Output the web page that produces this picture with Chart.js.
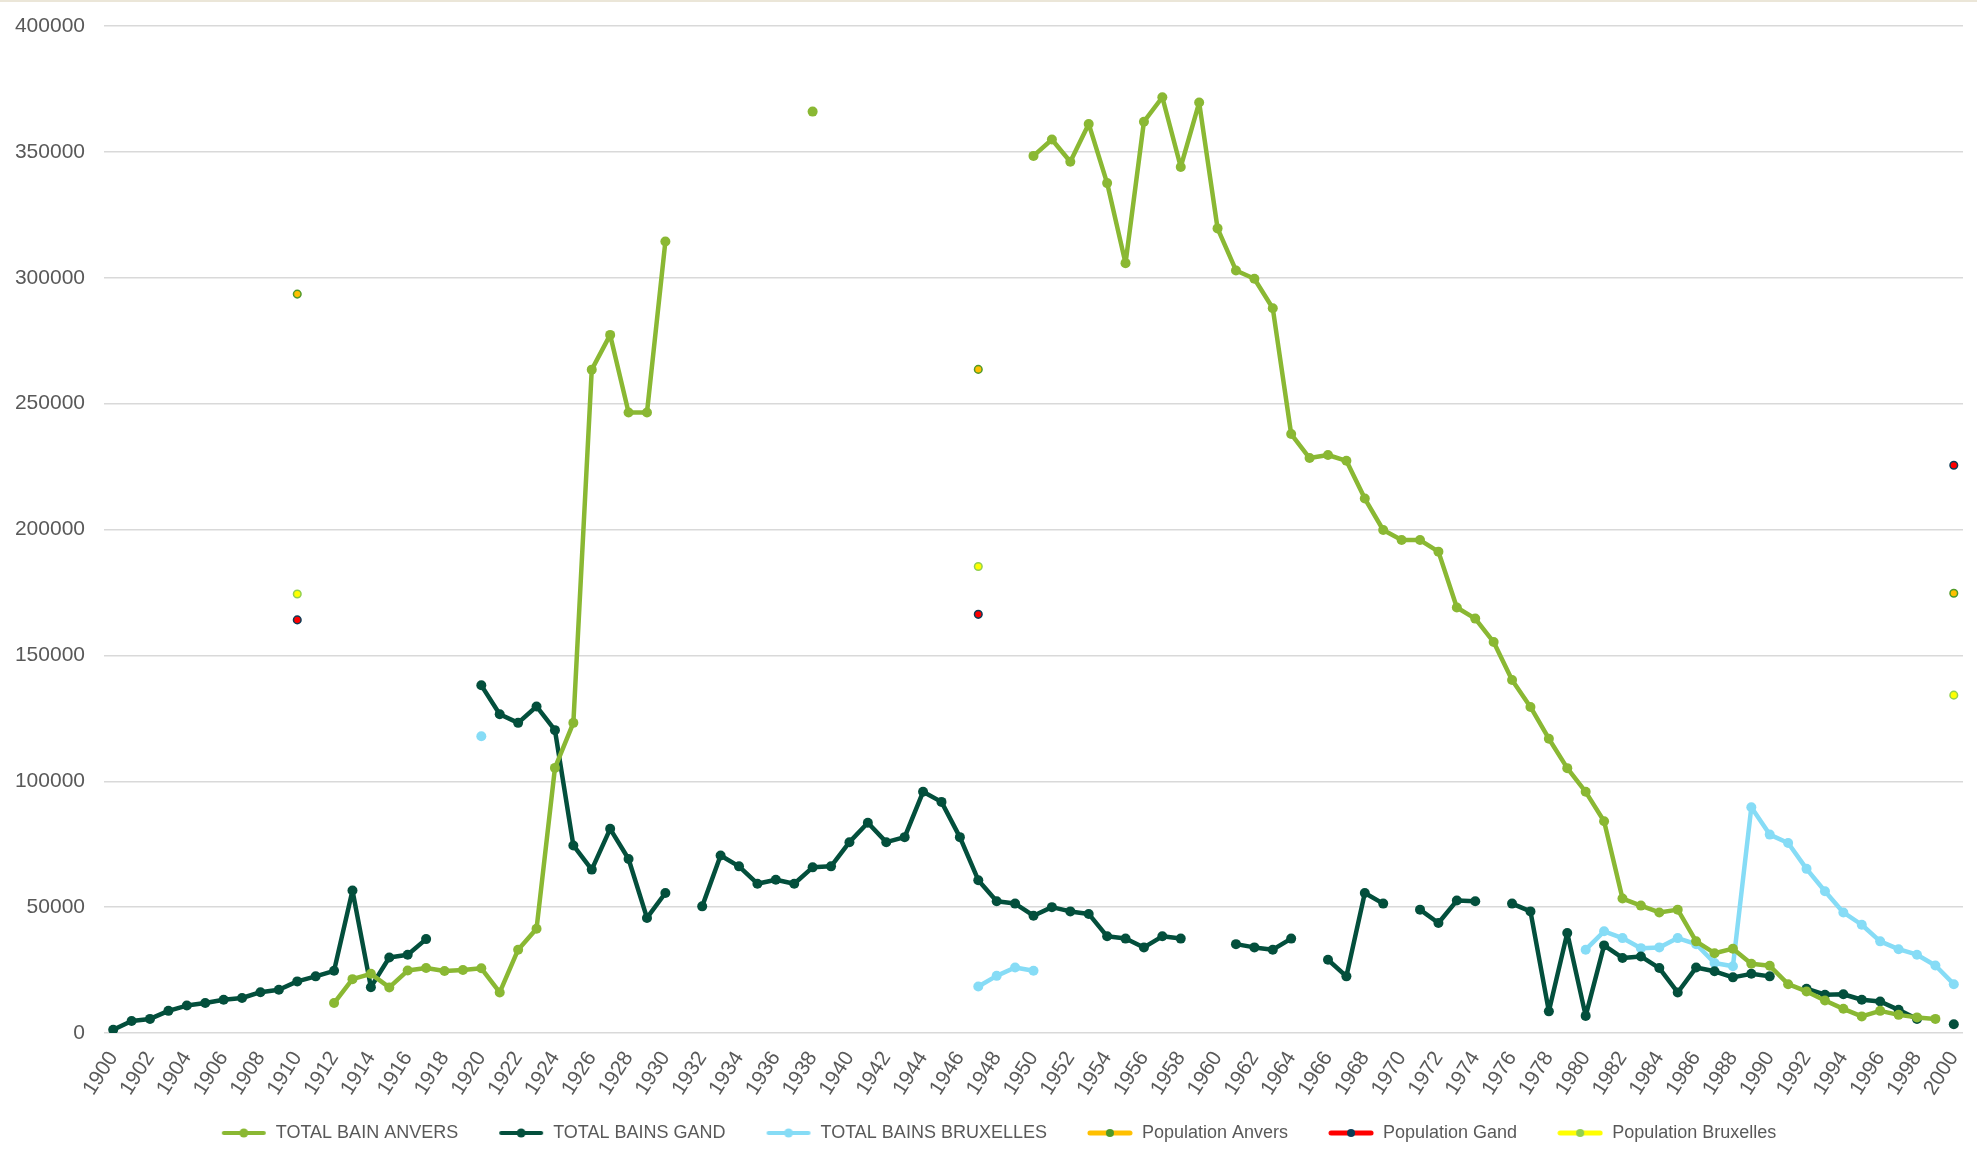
<!DOCTYPE html>
<html>
<head>
<meta charset="utf-8">
<title>Bains</title>
<script src="https://cdn.jsdelivr.net/npm/chart.js@4.4.1/dist/chart.umd.min.js"></script>
<style>
  html, body { margin: 0; padding: 0; background: #ffffff; }
  body { border-top: 2px solid #ebe6d8; box-sizing: border-box; }
  #wrap { width: 1977px; height: 1158px; }
</style>
</head>
<body>
<div id="wrap"><canvas id="bains" width="1977" height="1158"></canvas></div>
<script>
// years on the category axis
var years = [];
for (var y = 1900; y <= 2000; y++) years.push(String(y));

var N = null;

// TOTAL BAIN ANVERS, 1900 -> 2000
var anvers = [
  N, N, N, N, N, N, N, N, N, N, N, N,
  11900, 21400, 23500, 18100, 24800, 25800, 24600, 25000, 25700, 16100,
  33100, 41400, 105300, 123200, 263500, 277300, 246500, 246500, 314400,
  N, N, N, N, N, N, N,
  366000,
  N, N, N, N, N, N, N, N, N, N, N,
  348400, 354900, 346100, 361100, 337600, 305800, 362000, 371700, 344000, 369600,
  319600, 302900, 299600, 287900, 237900, 228400, 229600, 227300, 212300, 199800,
  195800, 195800, 191200, 169000, 164600, 155300, 140200, 129500, 116900, 105200,
  95800, 84100, 53400, 50600, 47900, 49000, 36400, 31700, 33500, 27500,
  26700, 19400, 16500, 12900, 9600, 6600, 8800, 7200, 6200, 5600,
  N
];

// TOTAL BAINS GAND
var gand = [
  1300, 4800, 5600, 8800, 10900, 11900, 13200, 13900, 16200, 17200,
  20500, 22500, 24700, 56600, 18200, 30000, 31100, 37300, N, N,
  138100, 126600, 123200, 129700, 120300, 74500, 64900, 81100, 69100, 45700,
  55600, N, 50300, 70500, 66200, 59300, 60900, 59300, 65800, 66200,
  75800, 83500, 75800, 77800, 95800, 91800, 77800, 60700, 52300, 51400,
  46600, 50000, 48300, 47300, 38400, 37500, 34000, 38400, 37500, N,
  N, 35300, 34000, 33100, 37500, N, 29100, 22500, 55600, 51400,
  N, 49000, 43700, 52600, 52300, N, 51400, 48300, 8600, 39700,
  6800, 34800, 29800, 30400, 25800, 16100, 26000, 24500, 22100, 23500,
  22500, N, 17600, 15200, 15400, 13200, 12500, 9200, 5600, N,
  3500
];

// TOTAL BAINS BRUXELLES
var bruxelles = [];
for (var i = 0; i <= 100; i++) bruxelles.push(N);
var bruxYears = [1920, 1947, 1948, 1949, 1950,
  1980, 1981, 1982, 1983, 1984, 1985, 1986, 1987, 1988, 1989,
  1990, 1991, 1992, 1993, 1994, 1995, 1996, 1997, 1998, 1999, 2000];
var bruxValues = [117900, 18500, 22700, 26000, 24700,
  33100, 40400, 37700, 33700, 34000, 37700, 35300, 27800, 26500, 89700,
  78800, 75500, 65200, 56300, 47900, 43000, 36400, 33300, 31100, 26800, 19400];
for (var i = 0; i < bruxYears.length; i++) bruxelles[bruxYears[i] - 1900] = bruxValues[i];

// populations, only three census years
var popYears = [1910, 1947, 2000];
var popAnvers = [293500, 263600, 174700];
var popGand = [164100, 166300, 225500];
var popBruxelles = [174400, 185300, 134200];

function spread(vals){
  var out = [];
  for (var i = 0; i <= 100; i++) out.push(N);
  for (var j = 0; j < popYears.length; j++) out[popYears[j] - 1900] = vals[j];
  return out;
}

// little line+dot picture for the legend
function legendIcon(lineColor, lineW, dotColor, dotR){
  var c = document.createElement('canvas');
  c.width = 46; c.height = 14;
  var ctx = c.getContext('2d');
  ctx.strokeStyle = lineColor;
  ctx.lineWidth = lineW;
  ctx.lineCap = 'round';
  ctx.beginPath();
  ctx.moveTo(3, 7); ctx.lineTo(43, 7);
  ctx.stroke();
  ctx.fillStyle = dotColor;
  ctx.beginPath();
  ctx.arc(23, 7, dotR, 0, Math.PI * 2);
  ctx.fill();
  return c;
}

var cAnvers = '#8ab833';
var cGand = '#034f3c';
var cBrux = '#86dcf6';

var font = "'Liberation Sans', Arial, sans-serif";
var grey = '#595959';

function lineSet(label, data, color){
  return {
    label: label,
    data: data,
    borderColor: color,
    backgroundColor: color,
    borderWidth: 4.5,
    borderJoinStyle: 'round',
    borderCapStyle: 'round',
    pointRadius: 5,
    pointHoverRadius: 5,
    pointBorderWidth: 0,
    spanGaps: false,
    legendIcon: legendIcon(color, 4, color, 4.5)
  };
}

function popSet(label, data, fill, border){
  return {
    label: label,
    data: data,
    borderColor: fill,
    backgroundColor: fill,
    pointBackgroundColor: fill,
    pointBorderColor: border,
    pointBorderWidth: 1.5,
    pointRadius: 3.8,
    borderWidth: 5,
    showLine: false,
    legendIcon: legendIcon(fill, 5, border, 4)
  };
}

var datasets = [
  lineSet('TOTAL BAIN ANVERS', anvers, cAnvers),
  lineSet('TOTAL BAINS GAND', gand, cGand),
  lineSet('TOTAL BAINS BRUXELLES', bruxelles, cBrux),
  popSet('Population Anvers', spread(popAnvers), '#ffc000', '#4f9a2a'),
  popSet('Population Gand', spread(popGand), '#ff0000', '#0b3d57'),
  popSet('Population Bruxelles', spread(popBruxelles), '#ffff00', '#92d050')
];

// legend in the original sits a bit right of centre and close under the labels
var shiftLegend = {
  id: 'shiftLegend',
  afterLayout: function(chart){
    chart.legend.left += 12;
    chart.legend.right += 12;
    chart.legend.top -= 13;
    chart.legend.bottom -= 13;
  }
};

new Chart(document.getElementById('bains'), {
  type: 'line',
  data: { labels: years, datasets: datasets },
  plugins: [shiftLegend],
  options: {
    responsive: false,
    animation: false,
    events: [],
    layout: { padding: { left: 10, right: 14, top: 24, bottom: -5 } },
    scales: {
      x: {
        offset: true,
        grid: { display: false, drawTicks: false },
        border: { display: false },
        ticks: {
          autoSkip: false,
          minRotation: 58,
          maxRotation: 58,
          padding: 14,
          color: grey,
          font: { family: font, size: 21 },
          callback: function(v, i){ return i % 2 === 0 ? years[i] : null; }
        },
        afterFit: function(s){
          s.height = 64;
          s.paddingLeft = 0;
          s.paddingRight = 0;
        }
      },
      y: {
        min: 0,
        max: 400000,
        grid: { color: '#d9d9d9', lineWidth: 1.5, drawTicks: true, tickLength: 16, tickColor: 'rgba(0,0,0,0)' },
        border: { display: false },
        ticks: {
          stepSize: 50000,
          padding: 3,
          color: grey,
          font: { family: font, size: 21 },
          callback: function(v){ return String(v); }
        },
        afterFit: function(s){ s.width = 94; }
      }
    },
    plugins: {
      tooltip: { enabled: false },
      legend: {
        position: 'bottom',
        labels: {
          usePointStyle: true,
          pointStyleWidth: 46,
          padding: 40,
          color: grey,
          font: { family: font, size: 18 },
          generateLabels: function(chart){
            return chart.data.datasets.map(function(ds, i){
              return {
                text: ds.label,
                pointStyle: ds.legendIcon,
                fontColor: grey,
                datasetIndex: i,
                lineWidth: 0,
                hidden: false
              };
            });
          }
        }
      }
    }
  }
});
</script>
</body>
</html>
